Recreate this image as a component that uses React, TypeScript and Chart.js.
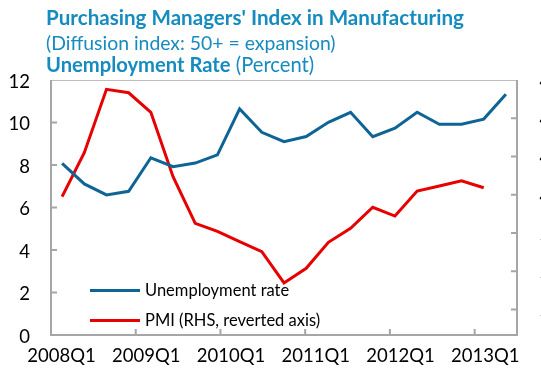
import React, { useEffect, useRef } from "react";
import { Chart, registerables } from "chart.js";

Chart.register(...registerables);

// Data
const dataQuarters = [
  "2008Q1", "2008Q2", "2008Q3", "2008Q4",
  "2009Q1", "2009Q2", "2009Q3", "2009Q4",
  "2010Q1", "2010Q2", "2010Q3", "2010Q4",
  "2011Q1", "2011Q2", "2011Q3", "2011Q4",
  "2012Q1", "2012Q2", "2012Q3", "2012Q4",
  "2013Q1",
];
const axisQuarters = [...dataQuarters, "2013Q2"];
const unemploymentRate = [
  8.08, 7.11, 6.59, 6.76, 8.34, 7.92, 8.09, 8.48, 10.64, 9.54, 9.1,
  9.34, 10.01, 10.48, 9.33, 9.73, 10.48, 9.92, 9.92, 10.16, 11.33,
];
const pmiReverted = [
  49.15, 45.7, 40.73, 41.0, 42.53, 47.58, 51.24, 51.87, 52.68, 53.47, 55.92,
  54.77, 52.73, 51.63, 49.98, 50.67, 48.71, 48.31, 47.9, 48.45, null,
];
const unemploymentTicks = [0, 2, 4, 6, 8, 10, 12];
const pmiTicks = [40, 43, 46, 49, 52, 55, 58];

const CANVAS_W = 600;
const CANVAS_H = 377;
const FONT = 'Lato, "Open Sans", sans-serif';
const BLUE = "#0f6496";
const RED = "#e60000";
const TITLE = "#168bbf";
const FRAME = "#a6a6a6";

const framePlugin = {
  id: "frameTicks",
  beforeDatasetsDraw(chart: any) {
    const { ctx, chartArea, scales } = chart;
    const { left, right, top, bottom } = chartArea;
    ctx.save();
    ctx.strokeStyle = "#bdbdbd";
    ctx.lineWidth = 1;
    ctx.beginPath();
    ctx.moveTo(left, top + 0.5);
    ctx.lineTo(right, top + 0.5);
    ctx.stroke();
    ctx.strokeStyle = FRAME;
    ctx.lineWidth = 2;
    ctx.beginPath();
    ctx.moveTo(left, top);
    ctx.lineTo(left, bottom);
    ctx.lineTo(right, bottom);
    ctx.lineTo(right, top);
    ctx.stroke();
    const tl = 6;
    ctx.beginPath();
    const x2 = scales.x2;
    for (let i = 4; i < axisQuarters.length; i += 4) {
      const px = (x2.getPixelForValue(i - 1) + x2.getPixelForValue(i)) / 2;
      ctx.moveTo(px, bottom);
      ctx.lineTo(px, bottom - tl);
    }
    const y = scales.y;
    unemploymentTicks.forEach((v) => {
      if (v === 0 || v === 12) return;
      const py = y.getPixelForValue(v);
      ctx.moveTo(left, py);
      ctx.lineTo(left + tl, py);
    });
    const y2 = scales.y2;
    pmiTicks.forEach((v) => {
      if (v === 40) return;
      const py = y2.getPixelForValue(v);
      ctx.moveTo(right, py);
      ctx.lineTo(right - tl, py);
    });
    ctx.stroke();
    ctx.restore();
  },
};

export default function App() {
  const ref = useRef<HTMLCanvasElement>(null);

  useEffect(() => {
    const tickFont = { family: FONT, size: 18.5 };
    const chart = new Chart(ref.current as HTMLCanvasElement, {
      type: "line",
      data: {
        labels: dataQuarters,
        datasets: [
          {
            label: "Unemployment rate",
            data: unemploymentRate,
            borderColor: BLUE,
            backgroundColor: BLUE,
            borderWidth: 3,
            pointRadius: 0,
            tension: 0,
            xAxisID: "x",
            yAxisID: "y",
          },
          {
            label: "PMI (RHS, reverted axis)",
            data: pmiReverted,
            borderColor: RED,
            backgroundColor: RED,
            borderWidth: 3,
            pointRadius: 0,
            tension: 0,
            spanGaps: false,
            xAxisID: "x",
            yAxisID: "y2",
          },
        ],
      },
      options: {
        responsive: false,
        animation: false,
        devicePixelRatio: 1,
        layout: { padding: { top: 80, left: 0, right: 0, bottom: 0 } },
        plugins: {
          legend: { display: false },
          tooltip: { enabled: false },
          title: { display: false },
        },
        scales: {
          x: { type: "category", display: false, offset: true },
          x2: {
            type: "category",
            labels: axisQuarters,
            position: "bottom",
            offset: true,
            grid: { display: false, drawTicks: false },
            border: { display: false },
            ticks: {
              autoSkip: false,
              maxRotation: 0,
              minRotation: 0,
              padding: 10,
              color: "#000",
              font: tickFont,
              callback: (_v: any, i: number) =>
                i % 4 === 0 ? axisQuarters[i] : null,
            },
            afterFit: (s: any) => {
              s.height = CANVAS_H - 335;
            },
          },
          y: {
            type: "linear",
            position: "left",
            min: 0,
            max: 12,
            grid: { display: false, drawTicks: false },
            border: { display: false },
            afterBuildTicks: (s: any) => {
              s.ticks = unemploymentTicks.map((value) => ({ value }));
            },
            ticks: { padding: 21, color: "#000", font: tickFont, labelOffset: 2 },
            afterFit: (s: any) => {
              s.width = 51;
            },
          },
          y2: {
            type: "linear",
            position: "right",
            min: 40,
            max: 60,
            reverse: true,
            grid: { display: false, drawTicks: false },
            border: { display: false },
            afterBuildTicks: (s: any) => {
              s.ticks = pmiTicks.map((value) => ({ value }));
            },
            ticks: { padding: 22.5, color: "#000", font: tickFont, labelOffset: 2 },
            afterFit: (s: any) => {
              s.width = CANVAS_W - 517;
            },
          },
        },
      } as any,
      plugins: [framePlugin],
    });
    return () => chart.destroy();
  }, []);

  const titleBase: React.CSSProperties = {
    position: "absolute",
    left: 46,
    whiteSpace: "nowrap",
    color: TITLE,
    fontFamily: FONT,
    lineHeight: 1,
  };
  const legendText: React.CSSProperties = {
    position: "absolute",
    left: 145,
    whiteSpace: "nowrap",
    color: "#000",
    fontFamily: FONT,
    fontSize: 16.5,
    lineHeight: "16px",
  };

  return (
    <div
      style={{
        position: "fixed",
        left: 0,
        top: 0,
        width: 541,
        height: 377,
        overflow: "hidden",
        background: "#fff",
      }}
    >
      <canvas
        ref={ref}
        width={CANVAS_W}
        height={CANVAS_H}
        style={{ position: "absolute", left: 0, top: 0, width: CANVAS_W, height: CANVAS_H }}
      />
      <div style={{ ...titleBase, top: 7, fontSize: 20.6, fontWeight: 700 }}>
        Purchasing Managers' Index in Manufacturing
      </div>
      <div style={{ ...titleBase, top: 33, fontSize: 19.4, fontWeight: 400 }}>
        (Diffusion index: 50+ = expansion)
      </div>
      <div style={{ ...titleBase, top: 54, fontSize: 20.2, fontWeight: 400 }}>
        <span style={{ fontWeight: 700 }}>Unemployment Rate</span> (Percent)
      </div>
      <div style={{ position: "absolute", left: 90, top: 288.5, width: 50, height: 3, background: BLUE }} />
      <div style={{ ...legendText, top: 282 }}>Unemployment rate</div>
      <div style={{ position: "absolute", left: 90, top: 318.5, width: 50, height: 3, background: RED }} />
      <div style={{ ...legendText, top: 312 }}>PMI (RHS, reverted axis)</div>
    </div>
  );
}
